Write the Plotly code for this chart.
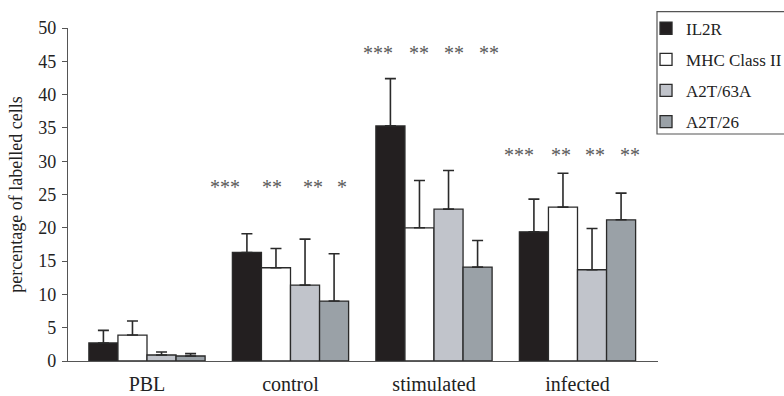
import plotly.graph_objects as go

# ---------------- data ----------------
categories = ["PBL", "control", "stimulated", "infected"]
series_names = ["IL2R", "MHC Class II", "A2T/63A", "A2T/26"]

il2r = [2.7, 16.3, 35.3, 19.4]
il2r_err = [1.9, 2.8, 7.1, 4.9]
mhc = [3.9, 14.0, 20.0, 23.1]
mhc_err = [2.1, 2.9, 7.1, 5.1]
a2t63a = [0.9, 11.4, 22.8, 13.7]
a2t63a_err = [0.45, 6.9, 5.8, 6.2]
a2t26 = [0.75, 9.0, 14.1, 21.2]
a2t26_err = [0.35, 7.1, 4.0, 4.0]

stars_control = ["***", "**", "**", "*"]
stars_stimulated = ["***", "**", "**", "**"]
stars_infected = ["***", "**", "**", "**"]

y_ticks = [0, 5, 10, 15, 20, 25, 30, 35, 40, 45, 50]
y_title = "percentage of labelled cells"

# ---------------- styling ----------------
FONT = "Liberation Serif, Times New Roman, serif"
colors = ["#231f20", "#ffffff", "#c1c4cb", "#9aa1a7"]
outline = "#2a2a2a"

values = [il2r, mhc, a2t63a, a2t26]
errors = [il2r_err, mhc_err, a2t63a_err, a2t26_err]
xpos = list(range(len(categories)))

fig = go.Figure()
for i, (name, vals, errs) in enumerate(zip(series_names, values, errors)):
    fig.add_trace(go.Bar(
        x=xpos, y=vals, name=name,
        legendgroup=name,
        marker=dict(color=colors[i], line=dict(color=outline, width=1.3)),
        error_y=dict(type="data", symmetric=False, array=errs,
                     arrayminus=[0] * len(errs),
                     color="#2a2a2a", thickness=1.6, width=5.5),
    ))

# significance stars (positions are layout, relative to category centre)
star_sets = [(1, stars_control, [-0.456, -0.129, 0.160, 0.362], 26.2),
             (2, stars_stimulated, [-0.390, -0.105, 0.139, 0.380], 46.3),
             (3, stars_infected, [-0.408, -0.118, 0.122, 0.369], 30.9)]
annotations = []
for cat, labels, offs, ylev in star_sets:
    for lab, off in zip(labels, offs):
        annotations.append(dict(
            x=cat + off, y=ylev, xref="x", yref="y", text=lab,
            showarrow=False, xanchor="center", yanchor="middle",
            font=dict(family=FONT, size=20, color="#5a5a5a")))

fig.update_layout(
    width=784, height=396,
    margin=dict(l=68, r=126, t=28, b=35, autoexpand=False),
    paper_bgcolor="white", plot_bgcolor="white",
    barmode="group", bargap=0.19, bargroupgap=0,
    font=dict(family=FONT, color="#222222"),
    showlegend=True,
    legend=dict(x=0.9797, y=1.052, xanchor="left", yanchor="top",
                bgcolor="rgba(0,0,0,0)", borderwidth=0,
                font=dict(family=FONT, size=17, color="#222222"),
                traceorder="grouped", tracegroupgap=6,
                itemclick=False),
    annotations=annotations,
    shapes=[dict(type="rect", xref="paper", yref="paper",
                 x0=0.9983, x1=1.25, y0=0.6817, y1=1.049,
                 line=dict(color="#555555", width=1.2),
                 fillcolor="rgba(0,0,0,0)", layer="above")],
)

fig.update_xaxes(
    range=[-0.5505, 3.561],
    tickmode="array", tickvals=xpos, ticktext=categories,
    showline=True, linecolor="#555555", linewidth=1.2,
    ticks="", showgrid=False, zeroline=False,
    tickfont=dict(family=FONT, size=20, color="#222222"),
    ticklabelstandoff=5,
)
fig.update_yaxes(
    range=[0, 50],
    tickmode="array", tickvals=y_ticks,
    showline=True, linecolor="#555555", linewidth=1.2,
    ticks="outside", ticklen=5, tickcolor="#555555", tickwidth=1.2,
    showgrid=False, zeroline=False,
    tickfont=dict(family=FONT, size=18, color="#222222"),
    ticklabelstandoff=2,
    title=dict(text=y_title, font=dict(family=FONT, size=18, color="#222222"),
               standoff=10),
)

fig.write_html("out.html")
